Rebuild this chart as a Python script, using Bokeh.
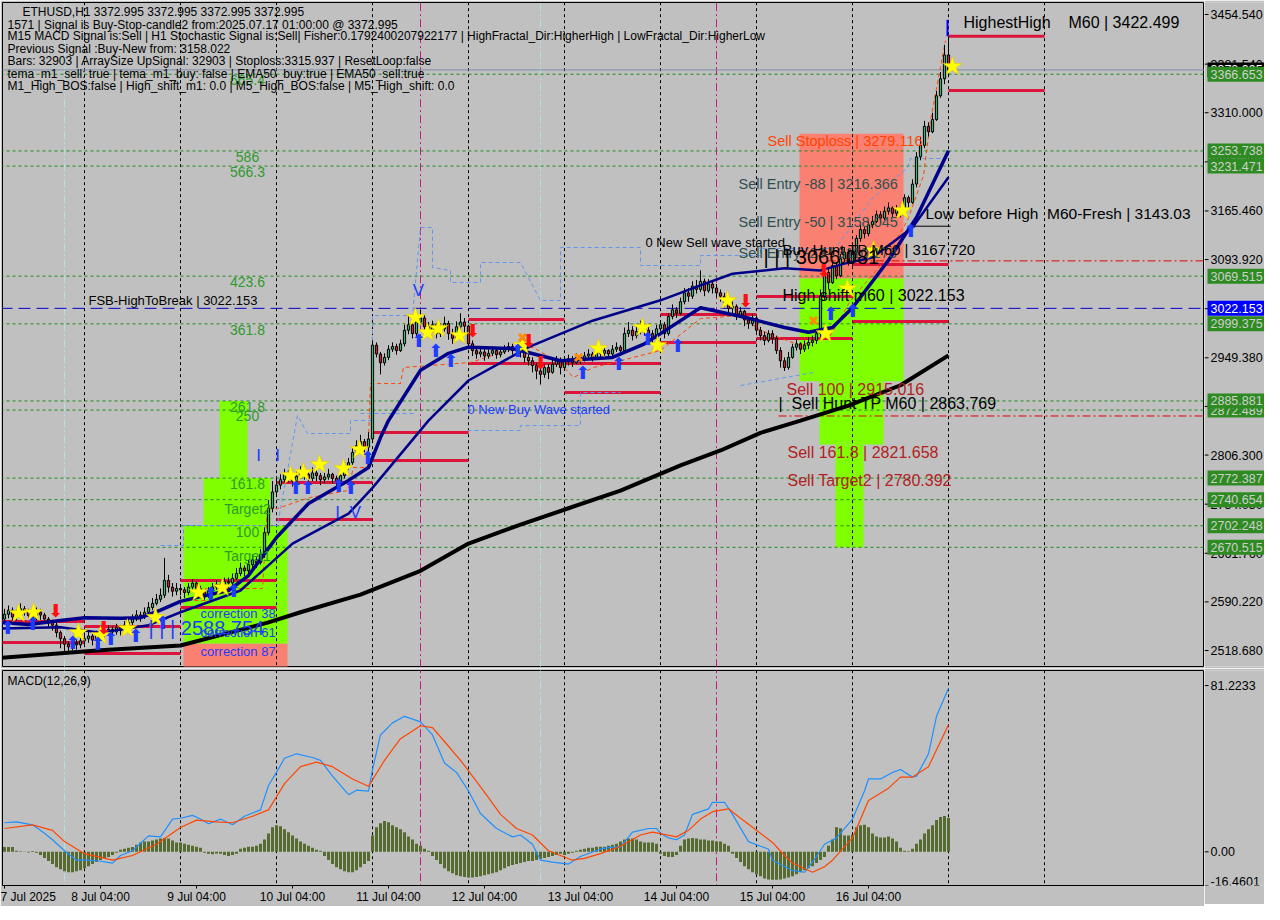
from bokeh.plotting import figure
from bokeh.models import Range1d, FixedTicker, LinearAxis
from bokeh.layouts import column, row
from bokeh.embed import file_html
from bokeh.resources import INLINE
from bokeh.core.properties import value

BG = "#C0C0C0"
FONT = "Liberation Sans"
NB = "\u00a0"

# ---------------- price data (H1 bars, index 0 = 7 Jul 04:00) ----------------
first_open = 2565
close_d7 = [2572, 2578, 2568, 2574, 2580, 2576, 2570, 2566, 2575, 2571, 2565, 2560, 2556, 2545, 2536, 2528, 2524, 2530, 2527, 2533]
high_d7 = [2580, 2585, 2582, 2579, 2588, 2584, 2580, 2574, 2582, 2580, 2574, 2568, 2564, 2560, 2548, 2540, 2532, 2536, 2535, 2540]
low_d7 = [2560, 2566, 2562, 2563, 2569, 2570, 2564, 2558, 2562, 2564, 2558, 2553, 2548, 2538, 2522, 2516, 2515, 2519, 2520, 2522]
close_d8 = [2536, 2540, 2534, 2542, 2548, 2544, 2550, 2546, 2552, 2548, 2556, 2560, 2565, 2571, 2568, 2575, 2582, 2588, 2594, 2600, 2622, 2612, 2606, 2610]
high_d8 = [2544, 2546, 2543, 2548, 2555, 2552, 2556, 2554, 2558, 2556, 2562, 2566, 2572, 2578, 2576, 2582, 2590, 2596, 2602, 2610, 2655, 2630, 2618, 2618]
low_d8 = [2528, 2530, 2526, 2530, 2538, 2538, 2540, 2540, 2542, 2541, 2545, 2552, 2556, 2562, 2561, 2565, 2572, 2578, 2585, 2590, 2596, 2604, 2598, 2600]
close_d9 = [2608, 2604, 2612, 2618, 2610, 2605, 2600, 2606, 2612, 2616, 2610, 2620, 2618, 2625, 2632, 2640, 2636, 2645, 2652, 2648, 2660, 2692, 2728, 2752]
high_d9 = [2616, 2612, 2618, 2624, 2620, 2614, 2608, 2612, 2618, 2622, 2619, 2626, 2626, 2632, 2640, 2648, 2644, 2652, 2660, 2656, 2668, 2700, 2740, 2768]
low_d9 = [2600, 2596, 2600, 2608, 2604, 2598, 2592, 2596, 2602, 2608, 2604, 2608, 2610, 2614, 2622, 2628, 2628, 2632, 2640, 2640, 2645, 2655, 2688, 2722]
close_d10 = [2762, 2770, 2778, 2774, 2768, 2775, 2782, 2778, 2772, 2780, 2776, 2770, 2774, 2778, 2772, 2768, 2776, 2788, 2795, 2810, 2820, 2826, 2818, 2830]
high_d10 = [2772, 2778, 2786, 2784, 2778, 2782, 2790, 2790, 2782, 2788, 2784, 2780, 2780, 2786, 2780, 2776, 2782, 2796, 2802, 2818, 2828, 2836, 2830, 2840]
low_d10 = [2745, 2756, 2765, 2766, 2760, 2764, 2772, 2770, 2764, 2768, 2768, 2762, 2765, 2770, 2764, 2760, 2765, 2772, 2785, 2792, 2806, 2814, 2810, 2812]
close_d11 = [2968, 2955, 2942, 2950, 2962, 2966, 2960, 2970, 2990, 2998, 2985, 3002, 3008, 2995, 2990, 2998, 2985, 2992, 3000, 2985, 2978, 2995, 3002, 2996]
high_d11 = [2975, 2972, 2958, 2956, 2968, 2972, 2970, 2976, 2998, 3012, 3005, 3014, 3020, 3012, 3002, 3004, 3000, 3000, 3010, 3004, 2992, 3003, 3015, 3008]
low_d11 = [2825, 2950, 2925, 2938, 2946, 2958, 2954, 2958, 2966, 2984, 2978, 2980, 2998, 2990, 2982, 2986, 2978, 2980, 2988, 2976, 2970, 2975, 2990, 2985]
close_d12 = [2970, 2960, 2955, 2958, 2952, 2956, 2960, 2954, 2958, 2962, 2966, 2960, 2964, 2958, 2950, 2945, 2938, 2930, 2925, 2935, 2928, 2940, 2946, 2935]
high_d12 = [2998, 2975, 2964, 2964, 2962, 2962, 2966, 2964, 2964, 2968, 2972, 2970, 2970, 2968, 2962, 2956, 2950, 2942, 2936, 2940, 2940, 2946, 2952, 2950]
low_d12 = [2962, 2952, 2948, 2950, 2945, 2948, 2952, 2948, 2950, 2955, 2958, 2954, 2956, 2950, 2942, 2938, 2928, 2918, 2910, 2920, 2918, 2926, 2936, 2925]
close_d13 = [2945, 2948, 2942, 2950, 2946, 2952, 2955, 2950, 2958, 2956, 2960, 2955, 2962, 2965, 2960, 2985, 2990, 2982, 2988, 2995, 2990, 2985, 2978, 2992]
high_d13 = [2952, 2954, 2952, 2956, 2954, 2958, 2962, 2958, 2964, 2964, 2966, 2962, 2968, 2972, 2968, 2994, 3002, 2996, 2996, 3004, 3000, 2996, 2990, 2998]
low_d13 = [2930, 2938, 2936, 2940, 2940, 2944, 2948, 2944, 2948, 2950, 2952, 2948, 2952, 2958, 2952, 2958, 2980, 2975, 2978, 2984, 2982, 2976, 2970, 2975]
close_d14 = [2998, 2985, 3010, 3020, 3015, 3032, 3045, 3040, 3055, 3050, 3062, 3048, 3058, 3052, 3045, 3040, 3030, 3022, 3025, 3012, 3018, 3005, 3000, 3008]
high_d14 = [3005, 3002, 3015, 3028, 3024, 3038, 3052, 3052, 3062, 3064, 3078, 3066, 3065, 3062, 3058, 3050, 3045, 3035, 3032, 3028, 3024, 3020, 3010, 3014]
low_d14 = [2988, 2978, 2982, 3006, 3008, 3012, 3028, 3032, 3036, 3044, 3046, 3040, 3045, 3044, 3038, 3032, 3024, 3015, 3015, 3005, 3008, 2996, 2992, 2996]
close_d15 = [2990, 2982, 2975, 2985, 2978, 2960, 2945, 2935, 2950, 2965, 2970, 2962, 2968, 2972, 2975, 2985, 3040, 3075, 3060, 3085, 3070, 3095, 3105, 3090]
high_d15 = [3010, 2995, 2988, 2990, 2990, 2982, 2965, 2950, 2958, 2970, 2976, 2972, 2975, 2980, 2982, 2992, 3050, 3085, 3080, 3092, 3090, 3102, 3112, 3110]
low_d15 = [2985, 2975, 2968, 2972, 2970, 2955, 2935, 2930, 2932, 2948, 2960, 2955, 2958, 2962, 2966, 2970, 2980, 3035, 3050, 3058, 3065, 3068, 3090, 3085]
close_d16 = [3105, 3125, 3138, 3132, 3145, 3150, 3160, 3155, 3165, 3170, 3162, 3168, 3165, 3185, 3178, 3205, 3245, 3262, 3290, 3282, 3300, 3335, 3360, 3395]
high_d16 = [3112, 3130, 3145, 3142, 3150, 3158, 3166, 3165, 3172, 3178, 3172, 3174, 3172, 3190, 3188, 3212, 3252, 3275, 3298, 3296, 3310, 3342, 3370, 3410]
low_d16 = [3085, 3100, 3120, 3125, 3128, 3140, 3148, 3148, 3152, 3160, 3155, 3158, 3156, 3160, 3170, 3176, 3200, 3240, 3258, 3275, 3280, 3298, 3332, 3352]
close_d17 = [3372.995]
high_d17 = [3422.499]
low_d17 = [3365]

closes = close_d7 + close_d8 + close_d9 + close_d10 + close_d11 + close_d12 + close_d13 + close_d14 + close_d15 + close_d16 + close_d17
highs = high_d7 + high_d8 + high_d9 + high_d10 + high_d11 + high_d12 + high_d13 + high_d14 + high_d15 + high_d16 + high_d17
lows = low_d7 + low_d8 + low_d9 + low_d10 + low_d11 + low_d12 + low_d13 + low_d14 + low_d15 + low_d16 + low_d17
opens = [first_open] + closes[:-1]
bars = list(range(len(closes)))

# ---------------- indicator lines (bar index, price) ----------------
ma200_i = [-1, 24, 44, 66, 74, 89, 104, 116, 129, 141, 154, 169, 179, 189, 199, 211, 224, 236]
ma200_v = [2508, 2519, 2526, 2560, 2575, 2601, 2636, 2676, 2704, 2728, 2754, 2791, 2813, 2839, 2857, 2879, 2909, 2953]
emaA_i = [-1, 6, 14, 20, 29, 34, 39, 44, 49, 56, 61, 68, 76, 86, 91, 94, 96, 104, 111, 116, 127, 139, 152, 160, 164, 174, 185, 195, 201, 207, 212, 221, 228, 236]
emaA_v = [2560, 2557, 2563, 2567, 2566, 2567, 2578, 2591, 2598, 2607, 2629, 2685, 2735, 2769, 2788, 2832, 2857, 2931, 2956, 2965, 2963, 2945, 2950, 2970, 2985, 3023, 3009, 2994, 2987, 2994, 3023, 3093, 3156, 3254]
emaB_i = [-1, 14, 24, 36, 44, 59, 72, 86, 92, 106, 116, 131, 147, 164, 174, 182, 195, 204, 210, 217, 227, 236]
emaB_v = [2551, 2553, 2545, 2556, 2575, 2607, 2676, 2720, 2758, 2857, 2916, 2965, 3004, 3034, 3056, 3073, 3081, 3078, 3088, 3097, 3141, 3215]
trail_i = [44, 50.25, 50.25, 64.5, 65.75, 68.25, 74, 76.5, 85.75, 87.25, 90.75, 91.5, 99, 99.75, 116.5, 128.25, 132.25, 139, 142.25, 147.25, 164, 174, 184, 189, 199, 206.5, 211.5, 219, 225.75, 229.75, 231.5, 235.25]
trail_v = [2592.2, 2592.2, 2609.9, 2609.9, 2727.6, 2727.6, 2739.4, 2743.8, 2754.1, 2787.9, 2787.9, 2911.5, 2911.5, 2935.1, 2942.5, 2964.5, 2964.5, 2941.0, 2920.4, 2935.1, 2960.1, 3007.2, 3011.6, 2989.5, 2967.5, 2982.2, 3033.7, 3085.2, 3151.4, 3217.6, 3298.6, 3416.3]
band_hi_i = [39, 44.75, 44.75, 68.25, 73.25, 75.75, 86.5, 86.5, 92, 92, 102, 104, 107, 107, 111.5, 111.5, 119, 119, 129, 134, 139, 139, 159, 159, 174, 174, 189, 189, 207.75, 216.5, 225.75, 226.5, 236.5]
band_hi_v = [2673.2, 2673.2, 2702.6, 2702.6, 2864.5, 2838.0, 2838.0, 2857.1, 2857.1, 3011.6, 3011.6, 3141.1, 3141.1, 3082.3, 3077.8, 3060.2, 3060.2, 3089.6, 3089.6, 3033.7, 3033.7, 3111.7, 3111.7, 3085.2, 3085.2, 3099.9, 3099.9, 3110.2, 3110.2, 3180.8, 3229.4, 3242.6, 3242.6]
band_lo_i = [[89, 102.25], [115.75, 129, 129, 144, 144, 154], [184, 202.25]]
band_lo_v = [[2867.4, 2867.4], [2842.4, 2842.4, 2849.7, 2849.7, 2898.3, 2898.3], [2908.6, 2927.7]]

# ---------------- levels ----------------
green_levels = [3366.653, 3253.738, 3231.471, 3069.515, 2999.375, 2885.881, 2872.489, 2772.387, 2740.654, 2702.248, 2670.515]
fib_names = ["665.4", "586", "566.3", "423.6", "361.8", "261.8", "250", "161.8", "Target2", "100", "Target1"]
bid_price = 3372.995
fsb_level = 3022.153
hunt_levels = [2863.769, 3092.0]
hunt_start = [193.5, 205.75]

red_start = [-1, -1, 20, 20, 44, 44, 68, 68, 92, 92, 116, 116, 140, 140, 164, 164, 188, 188, 212, 212, 236, 236]
red_end = [20, 20, 44, 44, 68, 68, 92, 92, 116, 116, 140, 140, 164, 164, 188, 188, 212, 212, 236, 236, 260, 260]
red_level = [2561.3, 2530.4, 2553.9, 2514.3, 2621.6, 2581.9, 2765.9, 2711.4, 2839.4, 2798.2, 3005.7, 2941.0,
             2941.0, 2898.3, 3013.1, 2971.9, 3039.5, 2977.8, 3086.7, 3002.8, 3422.499, 3342.7]

lime_l = [44.75, 49.75, 53.75, 198.75, 203.75, 207.75]
lime_r = [70.75, 66.5, 60.75, 224.75, 219.75, 214.75]
lime_b = [2528.9, 2702.248, 2772.387, 2915.016, 2821.658, 2670.515]
lime_t = [2702.248, 2772.387, 2885.881, 3066.081, 2915.016, 2821.658]
salmon_l = [44.75, 198.75]
salmon_r = [70.75, 224.75]
salmon_b = [2470.0, 3066.081]
salmon_t = [2528.9, 3279.116]

# ---------------- markers ----------------
star_i = [3.5, 7.25, 18.5, 24, 30.75, 37.75, 48.5, 54.5, 71.5, 74.75, 78.75, 84.75, 88.75, 102.75, 105.75, 108.5, 113.75, 129.5, 148.5, 159.5, 163.25, 180.75, 205.25, 210.75, 217.25, 224.5, 237]
star_p = [2573.1, 2574.6, 2545.1, 2540.7, 2551.0, 2567.4, 2604.0, 2611.4, 2776.2, 2780.6, 2792.4, 2786.5, 2814.4, 3008.7, 2986.6, 2992.5, 2982.2, 2967.5, 2963.0, 2994.0, 2967.5, 3033.7, 2985.1, 3051.3, 3107.3, 3166.1, 3378.0]
up_i = [0.75, 7, 17, 23.25, 26.5, 32.75, 39.5, 51.5, 57.25, 72.75, 75.75, 83.5, 86.5, 90.75, 103.5, 107.75, 111.5, 128.25, 144.5, 153.5, 160.75, 168.25, 206.5, 212, 226.5]
up_p = [2552.5, 2558.4, 2530.4, 2528.9, 2536.5, 2540.7, 2559.9, 2602.5, 2606.9, 2758.5, 2758.5, 2761.5, 2758.5, 2802.7, 2974.8, 2960.1, 2945.4, 2960.1, 2927.7, 2941.0, 2977.8, 2967.5, 3014.6, 3019.0, 3136.7]
dn_i = [12.75, 24.75, 117, 131, 134, 185.25, 204.75]
dn_p = [2577.5, 2552.5, 2989.5, 2974.8, 2942.5, 3033.7, 3077.8]
cross_i = [129.5, 143.5, 202.25]
cross_p = [2979.2, 2949.8, 3004.2]

# ---------------- MACD ----------------
hist_d7 = [2.3, 2.3, 2.3, 0.5, 0.3, 0.2, -0.3, 0.4, -0.5, -1.5, -3, -4.5, -6, -7.5, -8.5, -9.5, -10, -10, -9.5, -9]
hist_d8 = [-8, -7, -6, -5, -4, -3, -2.5, -1.5, -0.5, 1, 1.5, 2, 2.3, 3.5, 4.5, 5, 5, 5.5, 6, 6.5, 6.7, 6.5, 5.5, 4.5]
hist_d9 = [4.5, 4, 3.5, 3, 2.5, 2, -0.5, -1, -1.2, -0.8, -1, -1.5, -2, -1.5, -1, 1.5, 2, 2.5, 2.5, 3, 4, 6, 9, 12]
hist_d10 = [13, 12.5, 11, 9.5, 8, 6.5, 5, 4, 3, 2, 1, 0.5, -2, -4, -6, -7.5, -8.5, -9.5, -10, -10, -9, -7.5, -6, -4.5]
hist_d11 = [8, 12, 14, 15, 14.5, 13, 12, 11, 9.5, 7.5, 6, 4, 3, 1.5, 0.5, -2, -4, -6, -8, -9.5, -10.5, -11.5, -12, -12.3]
hist_d12 = [-12.5, -12.5, -12.3, -12, -11.5, -11, -10.5, -10, -9, -8, -7, -6.5, -6, -5.5, -5, -4.5, -4.5, -4, -3.5, -3, -2.5, -2, -1.5, -1]
hist_d13 = [-1.5, -1, -0.5, 0.5, 1, 1.5, 2, 2, 2.5, 2.5, 2.5, 3, 3.5, 4, 5, 6, 6.5, 6.5, 6, 5, 4.5, 4.5, 4.5, 4]
hist_d14 = [-1, -2, -2.5, -2.5, -1.5, 3, 6, 6.5, 6.7, 6.5, 6, 6, 5.5, 5.5, 5, 5, 4, 3, -1, -3, -5, -7, -8.5, -10]
hist_d15 = [-11, -12, -13, -13.5, -13.7, -13.7, -13.5, -13, -12.5, -12, -11, -10, -9, -8, -7, -5.5, -4, -2.5, 3, 6, 12, 11.5, 8, 8]
hist_d16 = [8.5, 12, 13, 13.2, 12, 9, 7.5, 7, 7, 7.5, 6.5, 5, 2, 0.5, 0.3, 1.5, 4, 6, 9, 11, 13, 15.5, 17, 17.5]
hist_d17 = [16.5]
hist = hist_d7 + hist_d8 + hist_d9 + hist_d10 + hist_d11 + hist_d12 + hist_d13 + hist_d14 + hist_d15 + hist_d16 + hist_d17

macd_i = [0, 3, 7, 10, 12, 15, 18, 21, 24, 27, 29, 32, 36, 39, 42, 44, 47, 49, 51, 54, 57, 60, 64, 66, 68, 70, 73, 77, 79, 82,
          86, 88, 91, 92, 94, 97, 100, 104, 107, 110, 113, 116, 119, 123, 127, 129, 132, 134, 137, 141, 144, 149, 152, 154, 157, 161, 163, 164, 166, 168,
          170, 172, 176, 177, 180, 182, 186, 189, 191, 192, 197, 200, 203, 205, 208, 212, 215, 216, 219, 222, 224, 227, 228, 231, 233, 236]
macd_v = [14.2, 14.6, 13.2, 9.1, 5.9, 0.5, -4.1, -4.1, -4.6, -5.5, -1.8, 0.5, 7.8, 7.3, 16.0, 16.4, 17.8, 16.0, 13.7, 16.0, 13.2, 17.4, 20.5, 32.4, 38.8, 45.7, 47.9, 46.1, 44.7, 37.0,
          27.9, 30.1, 29.7, 40.2, 57.1, 63.0, 66.2, 63.5, 57.1, 43.4, 38.8, 29.7, 18.7, 11.4, 7.3, 8.2, 3.7, -4.1, -5.0, -6.0, -2.3, 1.4, 2.3, 2.3, 9.6, 11.4, 11.4, 9.1, 6.8, 5.9,
          8.2, 18.3, 21.0, 24.2, 24.2, 18.3, 5.0, 2.7, 1.4, -4.1, -9.1, -10.0, -2.3, 3.7, 6.8, 16.0, 29.7, 35.6, 35.6, 38.8, 40.2, 36.5, 37.0, 47.9, 66.2, 79.9]
sig_i = [0, 7, 12, 15, 20, 27, 32, 38, 44, 48, 53, 57, 62, 66, 70, 74, 78, 82, 87, 91, 95, 99, 104, 107, 110, 114, 117, 121, 124, 128,
         132, 136, 142, 145, 149, 154, 159, 162, 168, 171, 174, 177, 181, 184, 188, 192, 195, 197, 202, 205, 207, 212, 216, 221, 224, 227, 231, 236]
sig_v = [11.4, 13.2, 10.5, 5.0, -0.9, -4.1, -1.8, 3.7, 11.9, 15.5, 14.6, 14.2, 17.4, 20.5, 33.3, 41.6, 43.8, 41.6, 35.6, 32.0, 44.7, 55.3, 61.6, 60.7, 53.9, 44.7, 37.0, 26.5, 18.3, 11.4,
         8.2, 0.5, -4.1, -3.2, -0.9, 2.7, 8.2, 9.6, 7.3, 10.5, 16.0, 19.6, 21.0, 16.4, 10.5, 4.6, -1.8, -5.5, -10.0, -7.3, -4.1, 6.8, 25.1, 31.1, 36.5, 36.5, 41.6, 62.1]

# ---------------- axes ----------------
price_ticks = [3454.54, 3381.54, 3310.0, 3237.73, 3165.46, 3093.92, 3021.65, 2949.38, 2877.84, 2806.3, 2734.03, 2661.76, 2590.22, 2518.68]
macd_ticks = [81.2233, 0.0, -16.4601]
macd_tick_labels = ["81.2233", "0.00", "-16.4601"]
macd_label_baseline = ["middle", "middle", "bottom"]
time_ticks = [0, 24, 48, 72, 96, 120, 144, 168, 192, 216]
time_labels = ["7 Jul 2025", "8 Jul 04:00", "9 Jul 04:00", "10 Jul 04:00", "11 Jul 04:00", "12 Jul 04:00",
               "13 Jul 04:00", "14 Jul 04:00", "15 Jul 04:00", "16 Jul 04:00"]
day_seps = [20, 44, 68, 92, 116, 140, 164, 188, 212, 236, 260]
magenta_seps = [104, 178]
cyan_seps = [15, 134]

header_lines = [
    "ETHUSD,H1  3372.995 3372.995 3372.995 3372.995",
    "1571 | Signal is Buy-Stop-candle2 from:2025.07.17 01:00:00 @ 3372.995",
    "M15 MACD Signal is:Sell | H1 Stochastic Signal is:Sell| Fisher:0.1792400207922177 | HighFractal_Dir:HigherHigh | LowFractal_Dir:HigherLow",
    "Previous Signal :Buy-New from: 3158.022",
    "Bars: 32903 | ArraySize UpSignal: 32903 | Stoploss:3315.937 | ResetLoop:false",
    "tema_m1_sell: true | tema_m1_buy: false | EMA50_buy:true | EMA50_sell:true",
    "M1_High_BOS:false | High_shift_m1: 0.0 | M5_High_BOS:false | M5_High_shift: 0.0",
]
header_x = [4.5, 0.75, 0.75, 0.75, 0.75, 0.75, 0.75]
header_y = [3457.5, 3439.8, 3422.2, 3404.5, 3385.4, 3367.7, 3350.0]

X_RANGE = Range1d(-0.5, 300)
Y_PRICE = Range1d(2495.16, 3472.20)
Y_MACD = Range1d(-16.4601, 88.6)


def pane(frame_h, y_range, top=2, bottom=2):
    f = figure(frame_width=1202, frame_height=frame_h, x_range=X_RANGE, y_range=y_range,
               output_backend="svg", toolbar_location=None, x_axis_location=None, y_axis_location=None,
               background_fill_color=BG, border_fill_color=BG, min_border_left=2, min_border_right=0,
               min_border_top=top, min_border_bottom=bottom)
    f.grid.visible = False
    f.outline_line_color = "black"
    f.outline_line_alpha = 1.0
    return f


def scale_pane(frame_h, y_range, top=2, bottom=2):
    f = figure(frame_width=60, frame_height=frame_h, x_range=Range1d(0, 60), y_range=y_range,
               output_backend="svg", toolbar_location=None, x_axis_location=None, y_axis_location=None,
               background_fill_color=BG, border_fill_color=BG, min_border_left=0, min_border_right=0,
               min_border_top=top, min_border_bottom=bottom)
    f.grid.visible = False
    f.outline_line_color = None
    return f


def tick_labels(f, ticks, labels, baselines=None):
    f.segment(x0=[0] * len(ticks), x1=[4] * len(ticks), y0=ticks, y1=ticks, line_color="black", line_width=1)
    if baselines is None:
        baselines = ["middle"] * len(ticks)
    for t, l, b in zip(ticks, labels, baselines):
        f.text(x=[6], y=[t], text=[l], text_color="black", text_font=value(FONT),
               text_font_size=value("12.5px"), text_align="left", text_baseline=b)


# ---------------- main price pane ----------------
p = pane(664, Y_PRICE)

p.quad(left=salmon_l, right=salmon_r, bottom=salmon_b, top=salmon_t, fill_color="#FA8072", line_color=None)
p.quad(left=lime_l, right=lime_r, bottom=lime_b, top=lime_t, fill_color="#7FFF00", line_color=None)

p.segment(x0=day_seps, x1=day_seps, y0=[2400] * len(day_seps), y1=[3500] * len(day_seps),
          line_color="black", line_dash="3 3", line_width=1)
p.segment(x0=magenta_seps, x1=magenta_seps, y0=[2400] * 2, y1=[3500] * 2,
          line_color="#C71585", line_dash="8 3 2 3", line_width=1)
p.segment(x0=cyan_seps, x1=cyan_seps, y0=[2400] * 2, y1=[3500] * 2,
          line_color="#B0E0E6", line_dash="8 3 2 3", line_width=1)

n = len(green_levels)
p.segment(x0=[-1] * n, x1=[320] * n, y0=green_levels, y1=green_levels, line_color="#1E8B1E", line_dash="3 3", line_width=1)
p.segment(x0=[-1], x1=[320], y0=[bid_price], y1=[bid_price], line_color="#7A8EA6", line_width=1)
p.segment(x0=[-1], x1=[320], y0=[fsb_level], y1=[fsb_level], line_color="#0000CD", line_dash="12 6", line_width=1)
p.segment(x0=hunt_start, x1=[320, 320], y0=hunt_levels, y1=hunt_levels,
          line_color="#E00000", line_dash="8 3 2 3", line_width=1)
p.segment(x0=red_start, x1=red_end, y0=red_level, y1=red_level, line_color="#DC143C", line_width=3)
p.segment(x0=[225.75], x1=[236.5], y0=[3143.03], y1=[3143.03], line_color="black", line_width=1)
p.segment(x0=[235.75], x1=[235.75], y0=[3422.499], y1=[3447.0], line_color="#0000FF", line_width=2)

p.line(band_hi_i, band_hi_v, line_color="#6495ED", line_dash="4 3", line_width=1)
p.multi_line(band_lo_i, band_lo_v, line_color="#6495ED", line_dash="4 3", line_width=1)
p.line(trail_i, trail_v, line_color="#FF4500", line_dash="4 3", line_width=1)

p.line(ma200_i, ma200_v, line_color="black", line_width=4)

body_top = [max(o, c) for o, c in zip(opens, closes)]
body_bot = [min(o, c) for o, c in zip(opens, closes)]
body_col = ["#3CB371" if c >= o else "#D0202A" for o, c in zip(opens, closes)]
p.segment(x0=bars, x1=bars, y0=lows, y1=highs, line_color="black", line_width=1)
p.vbar(x=bars, width=0.55, top=body_top, bottom=body_bot, fill_color=body_col, line_color="black", line_width=1)

p.line(emaB_i, emaB_v, line_color="#00008B", line_width=2.5)
p.line(emaA_i, emaA_v, line_color="#00008B", line_width=3.5)

p.scatter(star_i, star_p, marker="star", size=20, fill_color="#FFFF00", line_color="#E8C000", line_width=0.5)
p.scatter(cross_i, cross_p, marker="x", size=10, line_color="#FF8C00", line_width=3)
p.text(x=up_i, y=up_p, text=["⬆"] * len(up_i), text_color="#1E3CFF", text_font=value("DejaVu Sans"),
       text_font_size=value("18px"), text_align="center", text_baseline="middle")
p.text(x=dn_i, y=dn_p, text=["⬇"] * len(dn_i), text_color="#FF1010", text_font=value("DejaVu Sans"),
       text_font_size=value("18px"), text_align="center", text_baseline="middle")


def txt(x, y, s, color="black", size="16px", align="left", baseline="middle"):
    p.text(x=[x], y=[y], text=[s], text_color=color, text_font=value(FONT), text_font_size=value(size),
           text_align=align, text_baseline=baseline)


p.text(x=[60.75] * n, y=green_levels, text=fib_names, text_color="#2E9A2E", text_font=value(FONT),
       text_font_size=value("14px"), text_align="center", text_baseline="top", y_offset=1)

p.text(x=header_x, y=header_y, text=header_lines, text_color="black", text_font=value(FONT),
       text_font_size=value("12px"), text_align="left", text_baseline="middle")

txt(239.75, 3442.8, "HighestHigh" + NB * 4 + "M60 | 3422.499")
txt(190.75, 3267.7, "Sell Stoploss | 3279.116", color="#FF4500", size="14.5px")
txt(183.5, 3204.4, "Sell Entry -88 | 3216.366", color="#2F4F4F", size="14.5px")
txt(183.5, 3104.3, "Sell Entry -23 | 3110.173", color="#2F4F4F", size="14.5px")
txt(183.5, 3148.5, "Sell Entry -50 | 3158.045", color="#2F4F4F", size="14.5px")
txt(230.25, 3161.7, "Low before High" + NB * 2 + "M60-Fresh | 3143.03", size="15.5px")
txt(160.25, 3119.0, "0 New Sell wave started", size="13px")
txt(194.5, 3108.7, "Buy Hunt TP M60 | 3167.720", size="15px")
txt(189.75, 3097.0, "| | | 3066.081", size="20px")
txt(194.5, 3041.0, "High shift m60 | 3022.153")
txt(195.5, 2902.7, "Sell 100 | 2915.016", color="#B22222")
txt(193.5, 2882.1, "|" + NB * 2 + "Sell Hunt TP M60 | 2863.769")
txt(195.75, 2810.0, "Sell 161.8 | 2821.658", color="#B22222")
txt(195.75, 2768.8, "Sell Target2 | 2780.392", color="#B22222")
txt(115.75, 2873.3, "0 New Buy Wave started", color="#1E3CFF", size="13px")
txt(21, 3033.7, "FSB-HighToBreak | 3022.153", size="13px")
txt(36, 2552.5, "| | | 2588.754", color="#1E3CFF", size="20px")
txt(49, 2573.1, "correction 38", color="#1E3CFF", size="13px")
txt(49, 2545.1, "correction 61", color="#1E3CFF", size="13px")
txt(49, 2517.2, "correction 87", color="#1E3CFF", size="13px")
txt(103.5, 3048.4, "V", color="#1E3CFF", size="17px", align="center")
txt(63.5, 2805.6, "I", color="#1E3CFF", size="17px", align="center")
txt(68.25, 2805.6, "I", color="#1E3CFF", size="17px", align="center")
txt(83.25, 2721.7, "I", color="#1E3CFF", size="17px", align="center")
txt(87.75, 2721.7, "V", color="#1E3CFF", size="17px", align="center")

# ---------------- price scale ----------------
pa = scale_pane(664, Y_PRICE)
tick_labels(pa, price_ticks, ["%.3f" % t for t in price_ticks])


def price_box(price, bg, fg):
    pa.rect(x=[31.5], y=[price], width=57, height=15, height_units="screen", fill_color=bg, line_color=None)
    pa.text(x=[6], y=[price], text=["%.3f" % price], text_color=fg, text_font=value(FONT),
            text_font_size=value("12.5px"), text_align="left", text_baseline="middle")


price_box(bid_price, "#000000", "#FFFFFF")
for lvl in sorted(green_levels):
    price_box(lvl, "#2E8B22", "#CFCFCF")
price_box(fsb_level, "#0000FF", "#FFFFFF")

# ---------------- MACD pane ----------------
q = pane(215, Y_MACD, top=2, bottom=0)
xa = LinearAxis(ticker=FixedTicker(ticks=time_ticks),
                major_label_overrides={t: l for t, l in zip(time_ticks, time_labels)})
xa.axis_line_color = "black"
xa.major_tick_line_color = "black"
xa.minor_tick_line_color = None
xa.major_tick_in = 0
xa.major_tick_out = 3
xa.major_label_standoff = 1
xa.major_label_text_font = FONT
xa.major_label_text_font_size = "12px"
xa.major_label_text_color = "black"
xa.major_label_text_align = "left"
q.add_layout(xa, "below")

q.segment(x0=day_seps, x1=day_seps, y0=[-30] * len(day_seps), y1=[100] * len(day_seps),
          line_color="black", line_dash="3 3", line_width=1)
q.segment(x0=magenta_seps, x1=magenta_seps, y0=[-30] * 2, y1=[100] * 2,
          line_color="#C71585", line_dash="8 3 2 3", line_width=1)
q.segment(x0=cyan_seps, x1=cyan_seps, y0=[-30] * 2, y1=[100] * 2,
          line_color="#B0E0E6", line_dash="8 3 2 3", line_width=1)
q.vbar(x=bars, top=hist, bottom=0, width=0.75, fill_color="#556B2F", line_color=None)
q.line(macd_i, macd_v, line_color="#1E90FF", line_width=1.2)
q.line(sig_i, sig_v, line_color="#FF4500", line_width=1.2)
q.text(x=[0.75], y=[83.5], text=["MACD(12,26,9)"], text_color="black", text_font=value(FONT),
       text_font_size=value("12px"), text_align="left", text_baseline="middle")

qa = scale_pane(215, Y_MACD, top=2, bottom=19)
tick_labels(qa, macd_ticks, macd_tick_labels, macd_label_baseline)

layout = column(row(p, pa, spacing=0), row(q, qa, spacing=0), spacing=0)
open("out.html", "w").write(file_html(layout, INLINE))
